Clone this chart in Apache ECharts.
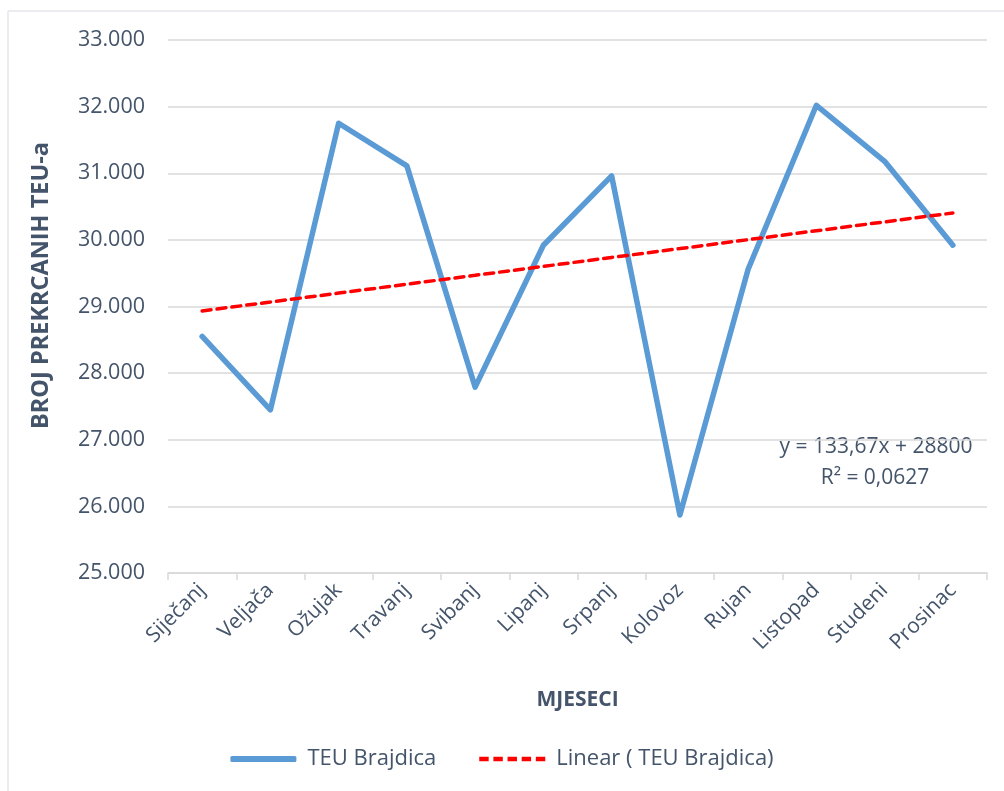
<!DOCTYPE html>
<html>
<head>
<meta charset="utf-8">
<script src="https://cdn.jsdelivr.net/npm/echarts@6/dist/echarts.min.js"></script>
<style>
html,body{margin:0;padding:0;background:#fff;}
#c{width:1004px;height:791px;}
</style>
</head>
<body>
<div id="c"></div>
<script>
const categories = ['Siječanj','Veljača','Ožujak','Travanj','Svibanj','Lipanj','Srpanj','Kolovoz','Rujan','Listopad','Studeni','Prosinac'];
const teuValues = [28550, 27450, 31750, 31110, 27790, 29920, 30960, 25870, 29560, 32020, 31180, 29920];
const trendValues = [28934, 29067, 29201, 29335, 29468, 29602, 29736, 29869, 30003, 30137, 30270, 30404];
const yTicks = { min: 25000, max: 33000, interval: 1000 };

const txt = '#44546A';
const font = '"Open Sans", "Noto Sans", sans-serif';
const chart = echarts.init(document.getElementById('c'), null, {renderer:'canvas'});
function fmt(v){ return String(v).replace(/\B(?=(\d{3})+(?!\d))/g,'.'); }
const dashIcon = 'path://M0,0h10v5h-10z M15,0h10v5h-10z M30,0h10v5h-10z M45,0h10v5h-10z M60,0h10v5h-10z';
chart.setOption({
  backgroundColor:'#fff',
  animation:false,
  textStyle:{fontFamily:font},
  grid:{left:168, right:17, top:40, bottom:218, containLabel:false},
  xAxis:{
    type:'category', data:categories, boundaryGap:true,
    axisLine:{lineStyle:{color:'#D9D9D9', width:1.5}},
    axisTick:{show:true, alignWithLabel:false, length:7, lineStyle:{color:'#D9D9D9', width:1.5}},
    axisLabel:{rotate:45, color:txt, fontSize:21, fontFamily:font, margin:14, interval:0},
    name:'MJESECI', nameLocation:'middle', nameGap:117,
    nameTextStyle:{color:txt, fontSize:21, fontWeight:'bold', fontFamily:font}
  },
  yAxis:{
    type:'value', min:yTicks.min, max:yTicks.max, interval:yTicks.interval,
    axisLine:{show:false}, axisTick:{show:false},
    splitLine:{lineStyle:{color:'#D9D9D9', width:1.5}},
    axisLabel:{color:txt, fontSize:21.5, fontFamily:font, margin:23, formatter:fmt},
    name:'BROJ PREKRCANIH TEU-a', nameLocation:'middle', nameGap:115, nameRotate:90,
    nameTextStyle:{color:txt, fontSize:23.5, fontWeight:'bold', fontFamily:font, padding:[0,0,0,42]}
  },
  legend:{
    bottom:16, left:'center', itemGap:43, itemWidth:66, itemHeight:6,
    textStyle:{color:txt, fontSize:22, fontFamily:font, padding:[0,0,0,6]},
    data:[
      {name:'TEU Brajdica', icon:'roundRect', itemStyle:{color:'#5B9BD5'}},
      {name:'Linear ( TEU Brajdica)', icon:dashIcon, itemStyle:{color:'#FF0000'}}
    ]
  },
  graphic:[
    {type:'text', style:{text:'y = 133,67x + 28800', x:876, y:447, align:'center', verticalAlign:'middle', fill:txt, font:'21px "Open Sans", sans-serif'}},
    {type:'text', style:{text:'R² = 0,0627', x:875, y:478, align:'center', verticalAlign:'middle', fill:txt, font:'21px "Open Sans", sans-serif'}},
    {type:'line', shape:{x1:8, y1:11, x2:1004, y2:11}, style:{stroke:'#E3E6EA', lineWidth:1.5}},
    {type:'line', shape:{x1:8, y1:11, x2:8, y2:791}, style:{stroke:'#E3E6EA', lineWidth:1.5}}
  ],
  series:[
    {name:'TEU Brajdica', type:'line', data:teuValues, symbol:'none',
     lineStyle:{color:'#5B9BD5', width:5.5, cap:'round', join:'round'}, itemStyle:{color:'#5B9BD5'}, z:2},
    {name:'Linear ( TEU Brajdica)', type:'line', data:trendValues, symbol:'none',
     lineStyle:{color:'#FF0000', width:3.5, type:[9,6], cap:'round'}, itemStyle:{color:'#FF0000'}, z:3}
  ]
});
</script>
</body>
</html>
